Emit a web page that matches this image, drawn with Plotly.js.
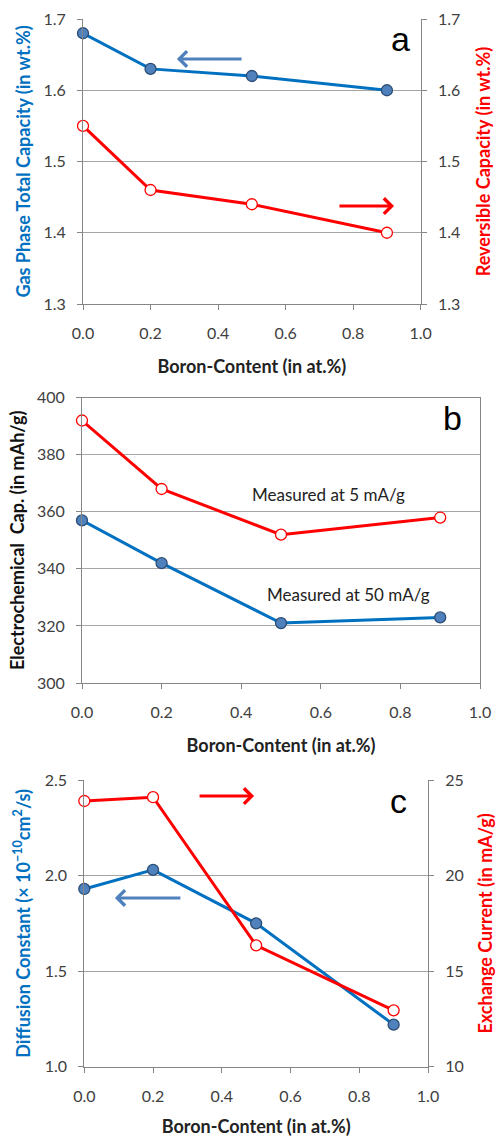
<!DOCTYPE html>
<html>
<head>
<meta charset="utf-8">
<script src="https://cdn.plot.ly/plotly-3.0.1.min.js"></script>
<style>html,body{margin:0;padding:0;background:#fff;}#chart{width:497px;height:1137px;}</style>
</head>
<body>
<div id="chart"></div>
<script>
// Shared x categories (Boron content, at.%)
const boron = [0, 0.2, 0.5, 0.9];
// Panel a
const gasPhaseTotal = [1.68, 1.63, 1.62, 1.60];
const reversibleCap = [1.55, 1.46, 1.44, 1.40];
// Panel b
const cap5mA = [392, 368, 352, 358];
const cap50mA = [357, 342, 321, 323];
// Panel c
const diffusion = [1.93, 2.03, 1.75, 1.22];
const exchangeCurrent = [23.9, 24.1, 16.35, 12.95];
// Tick labels
const xTicks = [0, 0.2, 0.4, 0.6, 0.8, 1.0];
const xTickText = ['0.0', '0.2', '0.4', '0.6', '0.8', '1.0'];

const BLUE = '#0070c0';
const RED = '#ff0000';
const FONT = 'Lato, "Open Sans", sans-serif';
const TICKC = '#404040';
const GRID = '#a6a6a6';
const AXL = '#868686';

function blueTrace(x, y, xa, ya) {
  return {x: x, y: y, xaxis: xa, yaxis: ya, type: 'scatter', mode: 'lines+markers',
    line: {color: BLUE, width: 3}, cliponaxis: false,
    marker: {size: 11, color: '#4f81bd', line: {color: '#2c4d75', width: 1.3}}, showlegend: false};
}
function redTrace(x, y, xa, ya) {
  return {x: x, y: y, xaxis: xa, yaxis: ya, type: 'scatter', mode: 'lines+markers',
    line: {color: RED, width: 3}, cliponaxis: false,
    marker: {size: 11, color: '#ffffff', line: {color: RED, width: 1.3}}, showlegend: false};
}

const data = [
  blueTrace(boron, gasPhaseTotal, 'x', 'y'),
  redTrace(boron, reversibleCap, 'x', 'y2'),
  redTrace(boron, cap5mA, 'x2', 'y3'),
  blueTrace(boron, cap50mA, 'x2', 'y3'),
  redTrace(boron, exchangeCurrent, 'x3', 'y5'),
  blueTrace(boron, diffusion, 'x3', 'y4')
];

function xAxis(domain, anchor, mirror) {
  return {domain: domain, anchor: anchor, range: [0, 1], tickvals: xTicks, ticktext: xTickText,
    ticks: 'outside', ticklen: 5, tickcolor: AXL, tickwidth: 1, ticklabelstandoff: 10,
    showline: true, linecolor: AXL, linewidth: 1, mirror: mirror, showgrid: false, zeroline: false,
    tickfont: {family: FONT, size: 16, color: TICKC},
    title: {text: '<b>Boron-Content (in at.%)</b>', font: {family: FONT, size: 18, color: '#222'}, standoff: 19}};
}
function yAxis(domain, anchor, range, dtick, fmt, titleText, color, side, overlay, standoff) {
  const ax = {domain: domain, anchor: anchor, range: range, dtick: dtick, tickformat: fmt,
    ticks: 'outside', ticklen: 5, tickcolor: AXL, tickwidth: 1, ticklabelstandoff: 8,
    showline: true, linecolor: AXL, linewidth: 1, zeroline: false,
    showgrid: side === 'left', gridcolor: GRID, gridwidth: 1,
    tickfont: {family: FONT, size: 16, color: TICKC}, side: side,
    title: {text: '<b>' + titleText + '</b>', font: {family: FONT, size: 18, color: color}, standoff: standoff}};
  if (overlay) ax.overlaying = overlay;
  return ax;
}

const yA = [1 - 304 / 1137, 1 - 19 / 1137];
const yB = [1 - 683 / 1137, 1 - 397.7 / 1137];
const yC = [1 - 1066.7 / 1137, 1 - 780 / 1137];

const layout = {
  width: 497, height: 1137,
  margin: {l: 0, r: 0, t: 0, b: 0},
  paper_bgcolor: '#ffffff', plot_bgcolor: '#ffffff',
  font: {family: FONT},
  xaxis: xAxis([83 / 497, 420.7 / 497], 'y', false),
  yaxis: yAxis(yA, 'x', [1.3, 1.7], 0.1, '.1f', 'Gas Phase Total Capacity (in wt.%)', BLUE, 'left', null, 8),
  yaxis2: yAxis(yA, 'x', [1.3, 1.7], 0.1, '.1f', 'Reversible Capacity (in wt.%)', RED, 'right', 'y', 18),
  xaxis2: xAxis([82 / 497, 480 / 497], 'y3', true),
  yaxis3: Object.assign(yAxis(yB, 'x2', [300, 400], 20, 'd', 'Electrochemical  Cap. (in mAh/g)', '#111', 'left', null, 7), {mirror: true}),
  xaxis3: xAxis([84.3 / 497, 428 / 497], 'y4', false),
  yaxis4: yAxis(yC, 'x3', [1.0, 2.5], 0.5, '.1f', 'Diffusion Constant (× 10<sup>−10</sup>cm<sup>2</sup>/s)', BLUE, 'left', null, 9),
  yaxis5: yAxis(yC, 'x3', [10, 25], 5, 'd', 'Exchange Current (in mA/g)', RED, 'right', 'y4', 16),
  annotations: [
    {xref: 'x', yref: 'y', x: 0.94, y: 1.672, text: 'a', showarrow: false, font: {family: 'Liberation Sans, Arial', size: 34, color: '#000'}},
    {xref: 'x2', yref: 'y3', x: 0.93, y: 393, text: 'b', showarrow: false, font: {family: 'Liberation Sans, Arial', size: 34, color: '#000'}},
    {xref: 'x3', yref: 'y4', x: 0.915, y: 2.39, text: 'c', showarrow: false, font: {family: 'Liberation Sans, Arial', size: 34, color: '#000'}},
    {xref: 'x2', yref: 'y3', x: 0.62, y: 366, text: 'Measured at 5 mA/g', showarrow: false, font: {family: FONT, size: 17, color: '#222'}},
    {xref: 'x2', yref: 'y3', x: 0.67, y: 331, text: 'Measured at 50 mA/g', showarrow: false, font: {family: FONT, size: 17, color: '#222'}},
    // direction arrows
    {xref: 'x', yref: 'y', axref: 'x', ayref: 'y', x: 0.278, y: 1.644, ax: 0.474, ay: 1.644, text: '', showarrow: true, arrowhead: 4, arrowsize: 1, arrowwidth: 3, arrowcolor: '#4f81bd'},
    {xref: 'x', yref: 'y', axref: 'x', ayref: 'y', x: 0.921, y: 1.4375, ax: 0.755, ay: 1.4375, text: '', showarrow: true, arrowhead: 4, arrowsize: 1, arrowwidth: 3, arrowcolor: RED},
    {xref: 'x3', yref: 'y4', axref: 'x3', ayref: 'y4', x: 0.494, y: 2.416, ax: 0.331, ay: 2.416, text: '', showarrow: true, arrowhead: 4, arrowsize: 1, arrowwidth: 3, arrowcolor: RED},
    {xref: 'x3', yref: 'y4', axref: 'x3', ayref: 'y4', x: 0.089, y: 1.883, ax: 0.284, ay: 1.883, text: '', showarrow: true, arrowhead: 4, arrowsize: 1, arrowwidth: 3, arrowcolor: '#4f81bd'}
  ]
};

Plotly.newPlot('chart', data, layout, {displayModeBar: false, staticPlot: true});
</script>
</body>
</html>
